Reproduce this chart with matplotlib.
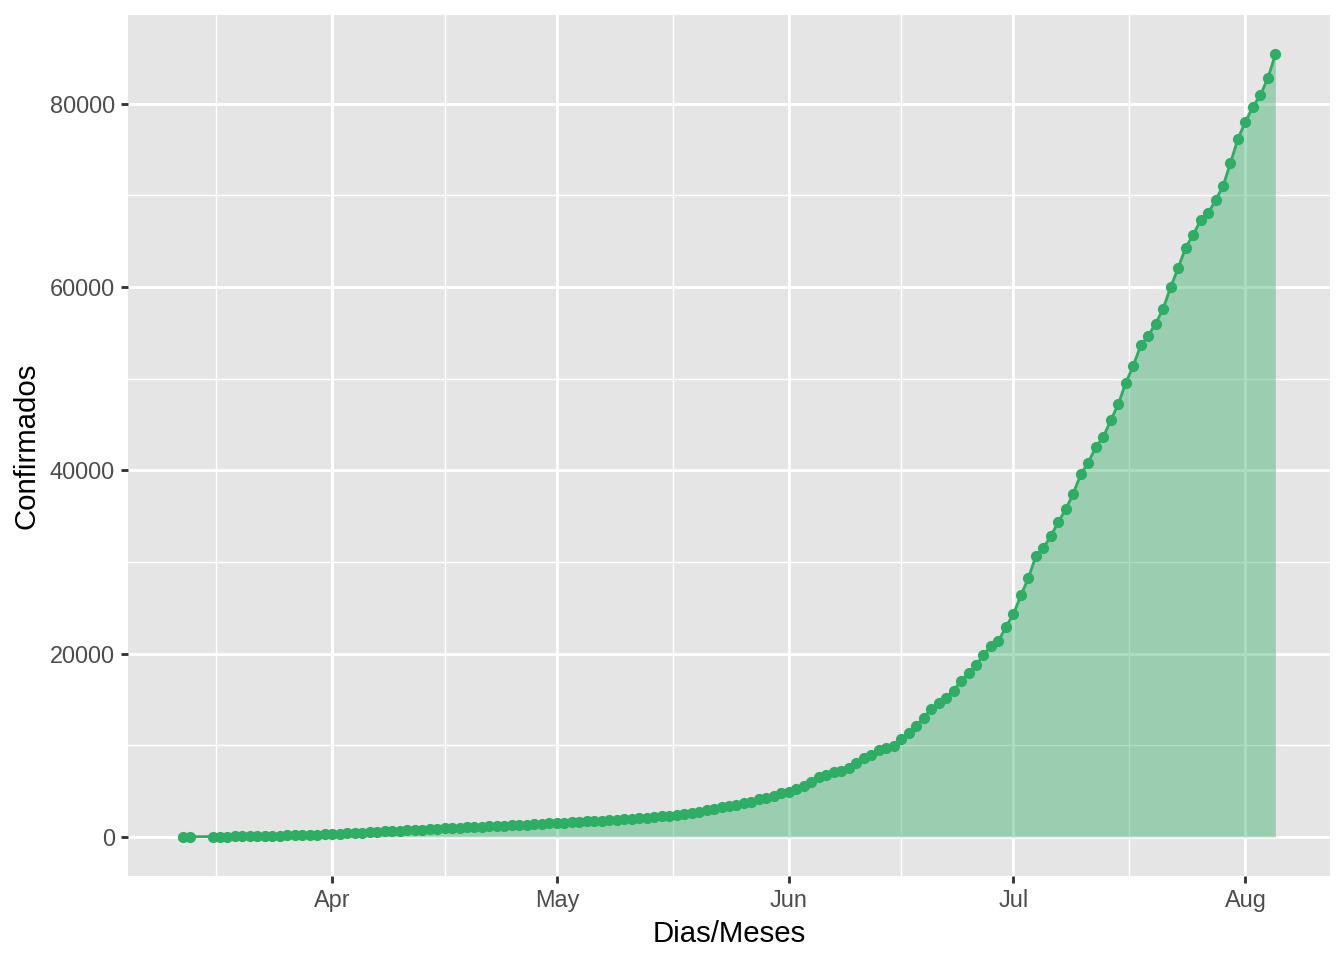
import matplotlib
matplotlib.use("Agg")
import matplotlib.pyplot as plt
import matplotlib.dates as mdates
from matplotlib.ticker import FixedLocator, FuncFormatter
import numpy as np
import pandas as pd

plt.rcParams['font.family'] = ['Liberation Sans', 'DejaVu Sans']

# Datos: casos confirmados acumulados
fechas_iniciales = ["2020-03-12", "2020-03-13"]
conf_iniciales = [3, 10]

inicio_diario = "2020-03-16"
fin_diario = "2020-08-05"

conf_mar = [20, 30, 40, 55, 70, 85, 100, 115, 130, 150, 170, 190, 210, 235, 255, 280]
conf_abr = [300, 340, 380, 420, 460, 500, 550, 600, 640, 680,
            720, 760, 800, 840, 880, 920, 960, 1000, 1030, 1070,
            1100, 1140, 1170, 1210, 1250, 1290, 1330, 1380, 1420, 1470]
conf_may = [1530, 1560, 1600, 1640, 1680, 1720, 1760, 1820, 1860, 1930,
            1970, 2040, 2100, 2180, 2250, 2320, 2430, 2540, 2650, 2760,
            2940, 3050, 3240, 3380, 3490, 3670, 3850, 4110, 4280, 4500, 4760]
conf_jun = [4940, 5230, 5590, 5960, 6500, 6760, 7050, 7230, 7490, 8030,
            8640, 8940, 9480, 9750, 9900, 10720, 11300, 12100, 13000, 13920,
            14570, 15180, 15950, 17040, 17880, 18710, 19870, 20820, 21360, 22920]
conf_jul = [24310, 26340, 28260, 30630, 31530, 32810, 34370, 35750, 37460, 39570,
            40840, 42510, 43630, 45450, 47190, 49520, 51370, 53620, 54680, 55990,
            57620, 59980, 62050, 64300, 65650, 67280, 68040, 69460, 70990, 73530, 76180]
conf_ago = [78040, 79670, 80950, 82800, 85375]

y_ticks = [0, 20000, 40000, 60000, 80000]
meses = ["2020-04-01", "2020-05-01", "2020-06-01", "2020-07-01", "2020-08-01"]

fechas = pd.to_datetime(fechas_iniciales).append(pd.date_range(inicio_diario, fin_diario, freq="D"))
confirmados = np.array(conf_iniciales + conf_mar + conf_abr + conf_may + conf_jun + conf_jul + conf_ago)

verde = "#2EAD64"

fig = plt.figure(figsize=(7, 5), dpi=192)
ax = fig.add_axes([0.0952, 0.0875, 0.8944, 0.8965])
ax.set_facecolor("#E5E5E5")
ax.set_axisbelow(True)

x = mdates.date2num(fechas)
ax.fill_between(x, 0, confirmados, color=verde, alpha=0.4, linewidth=0)
ax.plot(x, confirmados, '-', color=verde, linewidth=1.07)
ax.plot(x, confirmados, 'o', color=verde, markersize=4.2, markeredgewidth=0)

# Escalas estilo ggplot (expansion 5%)
dx = (x.max() - x.min()) * 0.05
ax.set_xlim(x.min() - dx, x.max() + dx)
dy = confirmados.max() * 0.05
ax.set_ylim(-dy, confirmados.max() + dy)

mayores = mdates.date2num(pd.to_datetime(meses))
todos = mdates.date2num(pd.to_datetime(["2020-03-01"] + meses + ["2020-09-01"]))
menores = (todos[:-1] + todos[1:]) / 2
ax.xaxis.set_major_locator(FixedLocator(mayores))
ax.xaxis.set_minor_locator(FixedLocator(menores))
ax.xaxis.set_major_formatter(mdates.DateFormatter("%b"))
ax.yaxis.set_major_locator(FixedLocator(y_ticks))
ax.yaxis.set_minor_locator(FixedLocator([10000, 30000, 50000, 70000]))
ax.yaxis.set_major_formatter(FuncFormatter(lambda v, p: f"{int(v)}"))

ax.grid(True, which='major', color='white', linewidth=1.07)
ax.grid(True, which='minor', color='white', linewidth=0.53)

for s in ax.spines.values():
    s.set_visible(False)
ax.tick_params(which='major', length=2.75, width=1.07, color='#333333',
               labelcolor='#4D4D4D', labelsize=8.8, pad=2.2)
ax.tick_params(which='minor', length=0)

ax.set_xlabel("Dias/Meses", fontsize=11, color='black', labelpad=3)
ax.set_ylabel("Confirmados", fontsize=11, color='black', labelpad=3.5)

fig.savefig("out.png", dpi=192)
